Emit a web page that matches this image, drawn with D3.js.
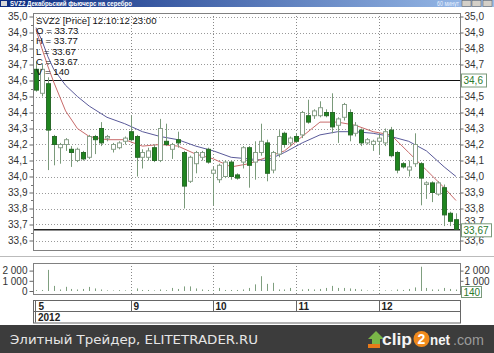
<!DOCTYPE html>
<html><head><meta charset="utf-8">
<script src="https://cdn.jsdelivr.net/npm/d3@7"></script>
<style>
body{margin:0;background:#fff}
svg{display:block;font-family:"Liberation Sans",Arial,sans-serif}
</style>
</head><body>
<svg width="494" height="353"></svg>
<script>
// свечи по часам, 5 - 12 октября 2012
var opens  = [34.67,34.52,34.58,34.25,34.18,34.20,34.17,34.10,34.15,34.12,34.25,34.30,34.24,34.17,34.18,34.22,
              34.28,34.25,34.12,34.12,34.18,34.10,34.22,34.17,34.23,34.15,33.97,34.08,34.12,34.17,
              34.02,33.98,34.00,34.09,34.01,34.09,34.18,34.09,34.15,34.21,34.04,34.14,34.27,34.21,
              34.25,34.26,34.38,34.38,34.38,34.40,34.40,34.32,34.37,34.40,34.27,34.29,34.21,34.20,
              34.22,34.21,34.29,34.15,34.08,34.04,34.08,34.08,33.95,33.96,33.89,33.93,33.77,33.73];
var highs  = [34.72,34.70,34.62,34.26,34.21,34.24,34.19,34.18,34.16,34.26,34.26,34.34,34.26,34.21,34.22,34.25,
              34.38,34.26,34.17,34.18,34.20,34.36,34.33,34.21,34.28,34.16,34.13,34.16,34.16,34.18,
              34.06,34.08,34.10,34.10,34.02,34.19,34.19,34.22,34.33,34.23,34.16,34.29,34.28,34.25,
              34.27,34.41,34.48,34.42,34.47,34.42,34.52,34.37,34.46,34.42,34.34,34.30,34.24,34.23,
              34.27,34.30,34.31,34.16,34.09,34.10,34.27,34.09,33.97,33.97,33.97,33.95,33.78,33.77];
var lows   = [34.53,34.50,34.04,34.07,34.08,34.16,34.06,34.09,34.10,34.11,34.14,34.19,34.22,34.15,34.17,34.20,
              34.22,34.00,34.05,34.10,34.09,34.09,34.19,34.11,34.18,33.80,33.96,34.02,34.10,34.08,
              33.82,33.96,33.99,33.98,33.98,34.05,33.93,33.98,34.13,33.97,34.02,34.12,34.18,34.19,
              34.21,34.24,34.33,34.36,34.37,34.37,34.27,34.21,34.35,34.22,34.25,34.19,34.20,34.16,
              34.14,34.19,34.12,34.02,34.05,34.00,34.06,33.82,33.86,33.84,33.88,33.69,33.69,33.67];
var closes = [34.54,34.67,34.29,34.20,34.20,34.23,34.15,34.17,34.11,34.25,34.23,34.21,34.25,34.20,34.21,34.24,
              34.23,34.12,34.15,34.16,34.10,34.30,34.20,34.20,34.21,33.94,34.12,34.15,34.15,34.09,
              34.04,34.07,34.09,34.00,33.99,34.18,34.07,34.15,34.22,34.02,34.15,34.25,34.20,34.24,
              34.22,34.40,34.34,34.41,34.43,34.38,34.31,34.36,34.45,34.26,34.32,34.21,34.23,34.22,
              34.24,34.28,34.13,34.04,34.06,34.06,34.20,33.99,33.96,33.90,33.96,33.76,33.72,33.67];
var volumes = [80,100,2070,500,150,410,200,150,200,400,250,150,60,50,80,60,
               100,250,100,100,60,150,80,300,200,450,450,250,150,100,
               100,300,100,100,100,150,300,650,1450,700,800,150,150,300,
               100,150,200,150,200,300,500,300,300,250,200,150,50,60,
               100,60,50,150,100,200,350,2380,300,150,150,300,200,140];

// скользящие средние
var maIdx  = [0,1,2,3,5,7,9,12,15,18,21,24,27,30,33,36,39,42,45,48,51,54,57,60,63,66,69,71];
var maFast = [34.92,34.80,34.69,34.59,34.41,34.30,34.25,34.23,34.23,34.19,34.20,34.19,34.14,34.11,34.06,34.08,
              34.12,34.16,34.25,34.34,34.34,34.32,34.28,34.26,34.15,34.04,33.93,33.85];
var maSlow = [34.93,34.85,34.75,34.67,34.57,34.50,34.44,34.37,34.33,34.28,34.25,34.23,34.19,34.16,34.12,34.11,
              34.10,34.15,34.21,34.26,34.28,34.28,34.27,34.25,34.22,34.16,34.06,34.00];

var dayStart  = [0,16,30,44,58];
var dayLabels = ["5","9","10","11","12"];
var priceTicks = [35.0,34.9,34.8,34.7,34.6,34.5,34.4,34.3,34.2,34.1,34.0,33.9,33.8,33.7,33.6];
var volTicks = [0,1000,2000];
var volTickLabels = ["0","1 000","2 000"];
var lastO = 33.73, lastH = 33.77, lastL = 33.67, lastC = 33.67, lastV = 140;
var levelLine = 34.6;

var svg = d3.select("svg");
var pL = 33, pR = 460, pT = 13, pB = 250;

var x = d3.scaleLinear().domain([0, 71]).range([36, 456]);
var y = d3.scaleLinear().domain([33.6, 35.0]).range([240.5, 16.5]);
var yv = d3.scaleLinear().domain([0, 2000]).range([291, 270.6]);

var candles = opens.map(function(o, i){
    return {i: i, o: o, h: highs[i], l: lows[i], c: closes[i], v: volumes[i]};
});
function px(i){ return Math.round(x(i)) + 0.5; }
function py(v){ return Math.round(y(v)) + 0.5; }

// заголовок окна
var defs = svg.append("defs");
var grad = defs.append("linearGradient").attr("id", "tb");
grad.append("stop").attr("offset", "0").attr("stop-color", "#0a2a80");
grad.append("stop").attr("offset", "1").attr("stop-color", "#9ec0ec");
svg.append("rect").attr("x", 0).attr("y", 0).attr("width", 494).attr("height", 7).attr("fill", "url(#tb)");
svg.append("rect").attr("x", 1).attr("y", 1).attr("width", 6).attr("height", 5).attr("fill", "#d8d8d8");
svg.append("text").attr("x", 10).attr("y", 6).attr("fill", "#fff").attr("font-size", 7).attr("font-weight", "bold")
   .attr("textLength", 122).attr("lengthAdjust", "spacingAndGlyphs")
   .text("SVZ2 Декабрьский фьючерс на серебро");
svg.append("text").attr("x", 437).attr("y", 6).attr("fill", "#e8f0ff").attr("font-size", 6.5)
   .attr("textLength", 22).attr("lengthAdjust", "spacingAndGlyphs").text("60 минут");
[462, 472, 483].forEach(function(bx){
    svg.append("rect").attr("x", bx).attr("y", 0.5).attr("width", 9).attr("height", 6).attr("fill", "#d4d0c8").attr("stroke", "#555").attr("stroke-width", 0.5);
});

// разделитель панелей
svg.append("line").attr("x1", 0).attr("x2", 494).attr("y1", 256.5).attr("y2", 256.5).attr("stroke", "#bbb");

// сетка цены
var g = svg.append("g");
g.selectAll("line.hg").data(priceTicks).enter().append("line").attr("class", "hg")
  .attr("x1", pL).attr("x2", pR)
  .attr("y1", function(d){ return py(d); }).attr("y2", function(d){ return py(d); })
  .attr("stroke", "#999").attr("stroke-dasharray", "1,2");
g.selectAll("line.vg").data(dayStart.slice(1)).enter().append("line").attr("class", "vg")
  .attr("x1", function(d){ return px(d); }).attr("x2", function(d){ return px(d); })
  .attr("y1", pT).attr("y2", pB)
  .attr("stroke", "#888").attr("stroke-dasharray", "1,2");

svg.append("rect").attr("x", pL + 0.5).attr("y", pT + 0.5).attr("width", pR - pL).attr("height", pB - pT)
   .attr("fill", "none").attr("stroke", "#808080");

// оси цены
function fmt(d){ return d.toFixed(1).replace(".", ","); }
var axL = svg.append("g").attr("transform", "translate(" + (pL + 0.5) + ",0)")
   .call(d3.axisLeft(y).tickValues(priceTicks).tickFormat(fmt).tickSize(4).tickPadding(2));
var axR = svg.append("g").attr("transform", "translate(" + (pR + 0.5) + ",0)")
   .call(d3.axisRight(y).tickValues(priceTicks).tickFormat(function(d){ return d === levelLine ? "" : fmt(d); })
         .tickSize(3).tickPadding(1));
[axL, axR].forEach(function(a){
    a.select(".domain").remove();
    a.selectAll("line").attr("stroke", "#666");
    a.selectAll("text").attr("font-size", 10).attr("fill", "#333").attr("font-family", "Liberation Sans, Arial, sans-serif");
});
// подпись 33,7 справа наполовину скрыта меткой последней цены
axR.selectAll(".tick").filter(function(d){ return d === 33.7; }).select("text").attr("dy", "-0.05em");

// мелкие риски
var minor = d3.range(33.65, 35.0, 0.1);
svg.append("g").selectAll("line").data(minor).enter().append("line")
  .attr("x1", pL - 2).attr("x2", pL)
  .attr("y1", function(d){ return py(d); }).attr("y2", function(d){ return py(d); })
  .attr("stroke", "#777");

defs.append("clipPath").attr("id", "pc").append("rect")
  .attr("x", pL + 1).attr("y", pT + 1).attr("width", pR - pL - 1).attr("height", pB - pT - 1);
var plot = svg.append("g").attr("clip-path", "url(#pc)");

// горизонтальные уровни
plot.append("line").attr("x1", pL).attr("x2", pR)
    .attr("y1", py(levelLine)).attr("y2", py(levelLine)).attr("stroke", "#111");
plot.append("line").attr("x1", pL).attr("x2", pR)
    .attr("y1", y(lastC) + 0.5).attr("y2", y(lastC) + 0.5).attr("stroke", "#222").attr("stroke-width", 1.5);

// средние
var line = d3.line().x(function(d){ return x(d[0]); }).y(function(d){ return y(d[1]); });
plot.append("path").datum(maIdx.map(function(d, k){ return [d, maSlow[k]]; }))
    .attr("d", line).attr("fill", "none").attr("stroke", "#5a5a9a").attr("stroke-width", 1);
plot.append("path").datum(maIdx.map(function(d, k){ return [d, maFast[k]]; }))
    .attr("d", line).attr("fill", "none").attr("stroke", "#c86a6a").attr("stroke-width", 1);

// свечи
var cg = plot.selectAll("g.candle").data(candles).enter().append("g").attr("class", "candle");
cg.append("line")
  .attr("x1", function(d){ return px(d.i); }).attr("x2", function(d){ return px(d.i); })
  .attr("y1", function(d){ return y(d.h); }).attr("y2", function(d){ return y(d.l); })
  .attr("stroke", "#7a9a7a");
cg.append("rect")
  .attr("x", function(d){ return Math.round(x(d.i)) - 1.5; })
  .attr("y", function(d){ return y(Math.max(d.o, d.c)); })
  .attr("width", 4)
  .attr("height", function(d){ return Math.max(1, Math.abs(y(d.o) - y(d.c))); })
  .attr("fill", function(d){ return d.c < d.o ? "#1f851f" : "#fff"; })
  .attr("stroke", function(d){ return d.c < d.o ? "#2a6a2a" : "#8aa08a"; })
  .attr("stroke-width", 1);

// легенда
var info = ["SVZ2 [Price] 12:10:12 23:00", "O = " + lastO.toFixed(2), "H = " + lastH.toFixed(2),
            "L = " + lastL.toFixed(2), "C = " + lastC.toFixed(2), "V = " + lastV];
svg.append("g").selectAll("text").data(info).enter().append("text")
  .attr("x", 36).attr("y", function(d, k){ return 24 + k * 10.2; })
  .attr("font-size", 9.6).attr("fill", "#111").text(function(d){ return d; });

// метки справа
function tag(yy, w, txt){
    svg.append("rect").attr("x", 461.5).attr("y", yy - 6.5).attr("width", w).attr("height", 13)
       .attr("fill", "#fff").attr("stroke", "#7a9a7a");
    svg.append("text").attr("x", 463.5).attr("y", yy + 3.5).attr("font-size", 10).attr("fill", "#2a7a2a").text(txt);
}
tag(y(levelLine), 25, fmt(levelLine));
tag(y(lastC) + 1, 30, lastC.toFixed(2).replace(".", ","));

// объёмы
var vT = 263, vB = 294;
svg.append("g").selectAll("line").data(dayStart.slice(1)).enter().append("line")
  .attr("x1", function(d){ return px(d); }).attr("x2", function(d){ return px(d); })
  .attr("y1", vT).attr("y2", vB)
  .attr("stroke", "#888").attr("stroke-dasharray", "1,2");
svg.append("rect").attr("x", pL + 0.5).attr("y", vT + 0.5).attr("width", pR - pL).attr("height", vB - vT)
   .attr("fill", "none").attr("stroke", "#808080");
svg.append("g").selectAll("line").data(candles).enter().append("line")
  .attr("x1", function(d){ return px(d.i); }).attr("x2", function(d){ return px(d.i); })
  .attr("y1", yv(0)).attr("y2", function(d){ return yv(d.v); })
  .attr("stroke", "#7f9f7f");
var vfmt = function(d){ return volTickLabels[volTicks.indexOf(d)]; };
var vaL = svg.append("g").attr("transform", "translate(" + (pL + 0.5) + ",0)")
  .call(d3.axisLeft(yv).tickValues(volTicks).tickFormat(vfmt).tickSize(4).tickPadding(2));
var vaR = svg.append("g").attr("transform", "translate(" + (pR + 0.5) + ",0)")
  .call(d3.axisRight(yv).tickValues(volTicks).tickFormat(function(d){ return d === 0 ? "" : vfmt(d); })
        .tickSize(3).tickPadding(1));
[vaL, vaR].forEach(function(a){
    a.select(".domain").remove();
    a.selectAll("line").attr("stroke", "#666");
    a.selectAll("text").attr("font-size", 10).attr("fill", "#333").attr("font-family", "Liberation Sans, Arial, sans-serif");
});
svg.append("rect").attr("x", 461.5).attr("y", 286.5).attr("width", 20).attr("height", 11)
   .attr("fill", "#fff").attr("stroke", "#7a9a7a");
svg.append("text").attr("x", 463.5).attr("y", 295.5).attr("font-size", 10).attr("fill", "#2a7a2a").text(lastV);

// шкала дат
var dT = 300, dM = 311.5, dB = 322.5;
svg.append("rect").attr("x", pL + 0.5).attr("y", dT + 0.5).attr("width", pR - pL).attr("height", dB - dT)
   .attr("fill", "none").attr("stroke", "#666");
svg.append("line").attr("x1", pL + 2.5).attr("x2", pL + 2.5).attr("y1", dT).attr("y2", dB).attr("stroke", "#666");
svg.append("line").attr("x1", pL).attr("x2", pR).attr("y1", dM).attr("y2", dM).attr("stroke", "#666");
svg.append("g").selectAll("line").data(dayStart.slice(1)).enter().append("line")
  .attr("x1", function(d){ return px(d); }).attr("x2", function(d){ return px(d); })
  .attr("y1", dT).attr("y2", dM).attr("stroke", "#666");
svg.append("g").selectAll("text").data(dayStart).enter().append("text")
  .attr("x", function(d){ return Math.round(x(d)) + 2.5; }).attr("y", 310)
  .attr("font-size", 10).attr("font-weight", "bold").attr("fill", "#222")
  .text(function(d, k){ return dayLabels[k]; });
svg.append("text").attr("x", 38).attr("y", 321).attr("font-size", 10).attr("font-weight", "bold").attr("fill", "#222").text("2012");

// нижняя плашка
svg.append("rect").attr("x", 0).attr("y", 325).attr("width", 494).attr("height", 28).attr("fill", "#3c3c3c");
svg.append("text").attr("x", 10).attr("y", 343.5).attr("font-family", "DejaVu Sans, sans-serif").attr("font-size", 13)
   .attr("textLength", 248).attr("lengthAdjust", "spacingAndGlyphs")
   .attr("fill", "#e6e6e6").text("Элитный Трейдер, ELITETRADER.RU");
var logo = svg.append("g");
logo.append("path").attr("d", "M376,331 L384,339 L380,339 L380,344 L372,344 L372,339 L368,339 Z").attr("fill", "#7ab648");
logo.append("rect").attr("x", 368).attr("y", 344).attr("width", 12).attr("height", 4).attr("fill", "#e87a1a");
logo.append("text").attr("x", 382).attr("y", 344.5).attr("font-size", 16).attr("font-weight", "bold").attr("fill", "#f4f4f4")
   .attr("textLength", 30).attr("lengthAdjust", "spacingAndGlyphs").text("clip");
logo.append("circle").attr("cx", 421.5).attr("cy", 339).attr("r", 8).attr("fill", "#f08a1c");
logo.append("text").attr("x", 421.5).attr("y", 344).attr("text-anchor", "middle").attr("font-size", 14).attr("font-weight", "bold").attr("fill", "#fff").text("2");
logo.append("text").attr("x", 430).attr("y", 344.5).attr("font-size", 14).attr("font-weight", "bold").attr("fill", "#f4f4f4")
   .attr("textLength", 20).attr("lengthAdjust", "spacingAndGlyphs").text("net");
logo.append("text").attr("x", 453).attr("y", 344.5).attr("font-size", 15).attr("fill", "#9a9a9a")
   .attr("textLength", 31).attr("lengthAdjust", "spacingAndGlyphs").text(".com");
</script>
</body></html>
